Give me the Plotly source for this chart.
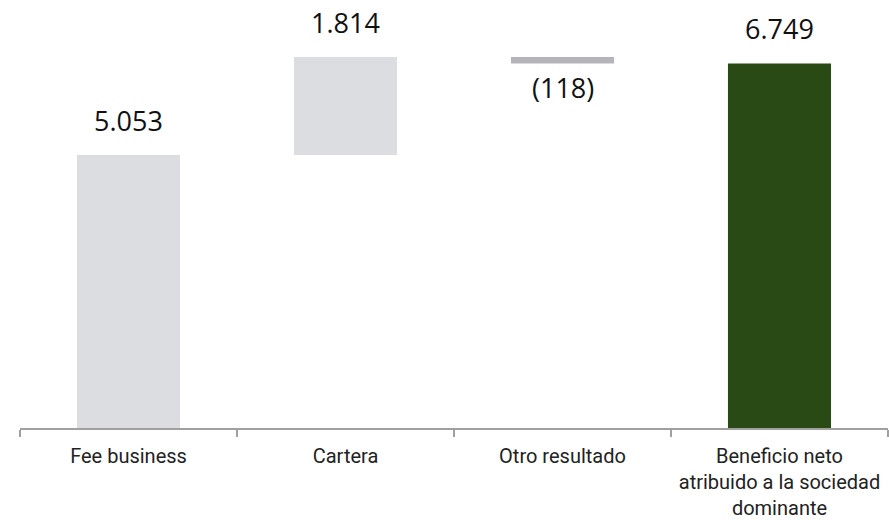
import plotly.graph_objects as go

categories = ["Fee business", "Cartera", "Otro resultado",
              "Beneficio neto<br>atribuido a la sociedad<br>dominante"]
values = [5053, 1814, -118, 6749]
value_labels = ["5.053", "1.814", "(118)", "6.749"]
measures = ["relative", "relative", "relative", "total"]
colors = ["#dcdde1", "#dcdde1", "#b5b4b9", "#2a4a15"]

bases, heights = [], []
cum = 0
for v, m in zip(values, measures):
    if m == "total":
        bases.append(0)
        heights.append(v)
        cum = v
    else:
        bases.append(cum)
        heights.append(v)
        cum += v

fig = go.Figure(go.Bar(
    x=categories, y=heights, base=bases,
    marker=dict(color=colors, line=dict(width=0)),
    width=0.475, hoverinfo="skip"))

annotations = []
for c, b, h, t in zip(categories, bases, heights, value_labels):
    if h >= 0:
        annotations.append(dict(x=c, y=b + h, text=t, showarrow=False,
                                yanchor="bottom", yshift=14,
                                font=dict(family="Open Sans", size=27, color="#111111")))
    else:
        annotations.append(dict(x=c, y=b + h, text=t, showarrow=False,
                                yanchor="top", yshift=-4,
                                font=dict(family="Open Sans", size=27, color="#111111")))

fig.update_layout(
    width=889, height=520,
    margin=dict(l=20, r=1, t=10, b=92),
    paper_bgcolor="white", plot_bgcolor="white",
    showlegend=False,
    annotations=annotations,
    bargap=0.525,
)
fig.update_xaxes(
    showline=True, linecolor="#a0a0a0", linewidth=2,
    ticks="outside", ticklen=7, tickcolor="#a0a0a0", tickwidth=2,
    tickson="boundaries", showgrid=False, ticklabelstandoff=9,
    tickfont=dict(family="Roboto", size=20, color="#222222"),
)
fig.update_yaxes(visible=False, range=[0, 7737], showgrid=False, zeroline=False)

fig.write_html("out.html")
